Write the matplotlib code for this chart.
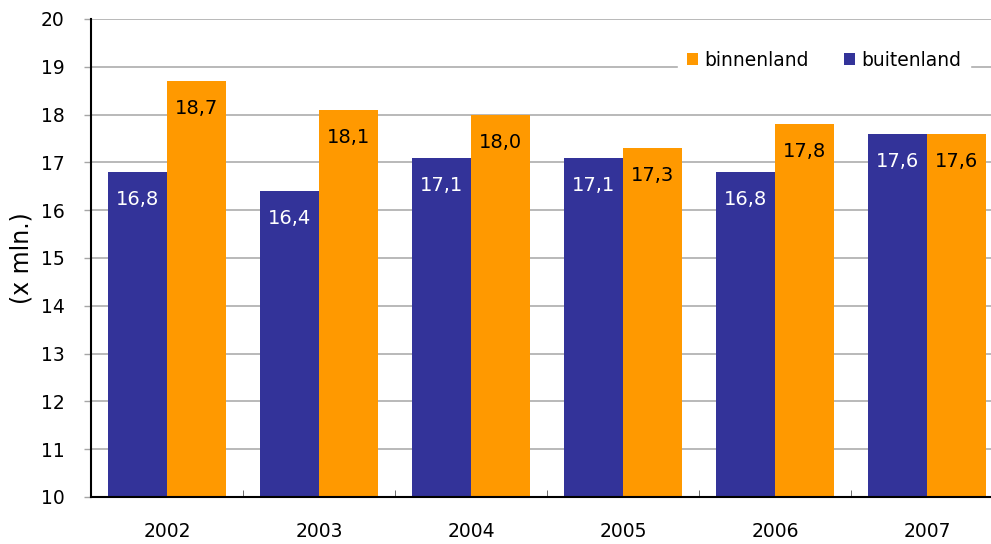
import numpy as np
import matplotlib
matplotlib.use("Agg")
import matplotlib.pyplot as plt

years = ["2002", "2003", "2004", "2005", "2006", "2007"]
buitenland = [16.8, 16.4, 17.1, 17.1, 16.8, 17.6]
binnenland = [18.7, 18.1, 18.0, 17.3, 17.8, 17.6]

BLUE, ORANGE, GRID = "#333399", "#FF9900", "#A6A6A6"

plt.rcParams["font.family"] = ["DejaVu Sans"]

fig = plt.figure(figsize=(9.91, 5.44), dpi=100)
ax = fig.add_axes([91 / 991, 47 / 544, 912 / 991, 478 / 544])

x = np.arange(len(years))
w = 0.39
b1 = ax.bar(x - w / 2, buitenland, w, color=BLUE, label="buitenland", zorder=2)
b2 = ax.bar(x + w / 2, binnenland, w, color=ORANGE, label="binnenland", zorder=2)

for xi, v in zip(x, buitenland):
    ax.annotate(f"{v:.1f}".replace(".", ","), (xi - w / 2, v), xytext=(0, -20),
                textcoords="offset points", ha="center", va="center",
                color="white", fontsize=14, zorder=3)
for xi, v in zip(x, binnenland):
    ax.annotate(f"{v:.1f}".replace(".", ","), (xi + w / 2, v), xytext=(0, -20),
                textcoords="offset points", ha="center", va="center",
                color="black", fontsize=14, zorder=3)

ax.set_ylim(10, 20)
ax.set_xlim(-0.5, 5.5)
ax.set_yticks(range(10, 21))
ax.yaxis.grid(True, color=GRID, linewidth=1.1, zorder=0)
ax.set_axisbelow(True)
ax.set_xticks(x, years)
ax.set_xticks(np.arange(0.5, 5.5, 1), minor=True)
ax.tick_params(axis="x", which="major", length=0, pad=18, labelsize=13.5)
ax.tick_params(axis="x", which="minor", direction="in", length=5, color="#555555")
ax.tick_params(axis="y", length=5, width=1, color=GRID, pad=14, labelsize=13.5)
ax.spines[["top", "right"]].set_visible(False)
ax.spines["left"].set_linewidth(1.5)
ax.spines["bottom"].set_linewidth(1.5)
ax.set_ylabel("(x mln.)", fontsize=17, labelpad=5)

handles = [b2, b1]
leg = ax.legend(handles, ["binnenland", "buitenland"], ncol=2, loc="center",
                bbox_to_anchor=((824 - 91) / 912, (497 - 60) / 478),
                frameon=True, fancybox=False, edgecolor="white",
                facecolor="white", framealpha=1, fontsize=13.5,
                handlelength=0.6, handleheight=0.6, handletextpad=0.3,
                columnspacing=1.9, borderpad=0.5)
leg.set_zorder(5)

fig.savefig("out.png", dpi=100)
